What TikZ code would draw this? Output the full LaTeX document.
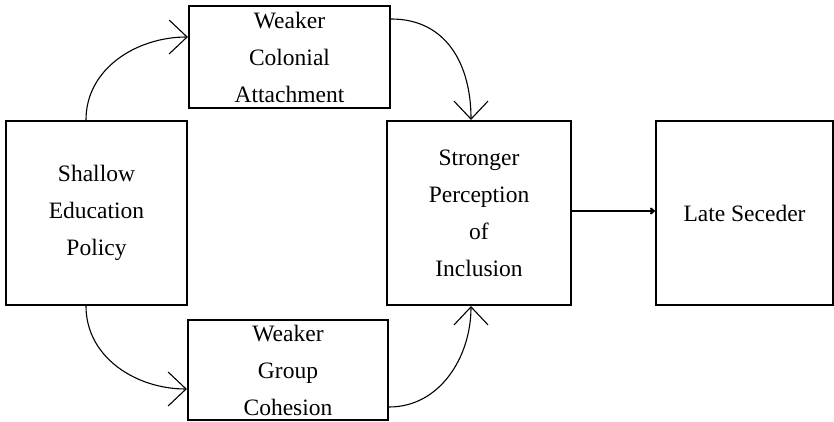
\documentclass[tikz,border=0pt]{standalone}
\usepackage{fontspec}
\setmainfont{Liberation Serif}
\usepackage{tikz}
\usetikzlibrary{arrows.meta}
\tikzset{
box/.style={draw, line width=2.2pt, align=center, inner sep=0pt,
  font=\fontsize{23.5}{37}\selectfont},
link/.style={line width=1.1pt, -{Straight Barb[length=18pt,width=34pt,line width=1.1pt]}},
main link/.style={line width=2pt, -{To[length=5pt,width=7pt]}}
}

\begin{document}
\begin{tikzpicture}[x=1pt,y=1pt]
\useasboundingbox (0,0) rectangle (834,422);

%Shape: Rectangle [id:shallow]
\node [box, minimum width=181, minimum height=184] (shallow) at (96.5,209) {Shallow\\Education\\Policy};
%Shape: Rectangle [id:colonial]
\node [box, minimum width=201, minimum height=102] (colonial) at (289.5,365) {Weaker\\Colonial\\Attachment};
%Shape: Rectangle [id:cohesion]
\node [box, minimum width=200, minimum height=100] (cohesion) at (288,52) {Weaker\\Group\\Cohesion};
%Shape: Rectangle [id:inclusion]
\node [box, minimum width=184, minimum height=184] (inclusion) at (479,209) {Stronger\\Perception\\of\\Inclusion};
%Shape: Rectangle [id:seceder]
\node [box, minimum width=177, minimum height=184] (seceder) at (744.5,209) {Late Seceder};

%Curve Lines
\draw [link] ([xshift=-10.5pt]shallow.north) to[out=90,in=180] ([yshift=20pt]colonial.west);
\draw [link] ([yshift=38pt]colonial.east) to[out=0,in=90,looseness=1.1] ([xshift=-8pt]inclusion.north);
\draw [link] ([xshift=-10.5pt]shallow.south) to[out=-90,in=180] ([yshift=-19pt]cohesion.west);
\draw [link] ([yshift=-37pt]cohesion.east) to[out=0,in=-90] ([xshift=-8pt]inclusion.south);
%Straight Lines
\draw [main link] ([yshift=2pt]inclusion.east) -- ([yshift=2pt]seceder.west);

\end{tikzpicture}
\end{document}
